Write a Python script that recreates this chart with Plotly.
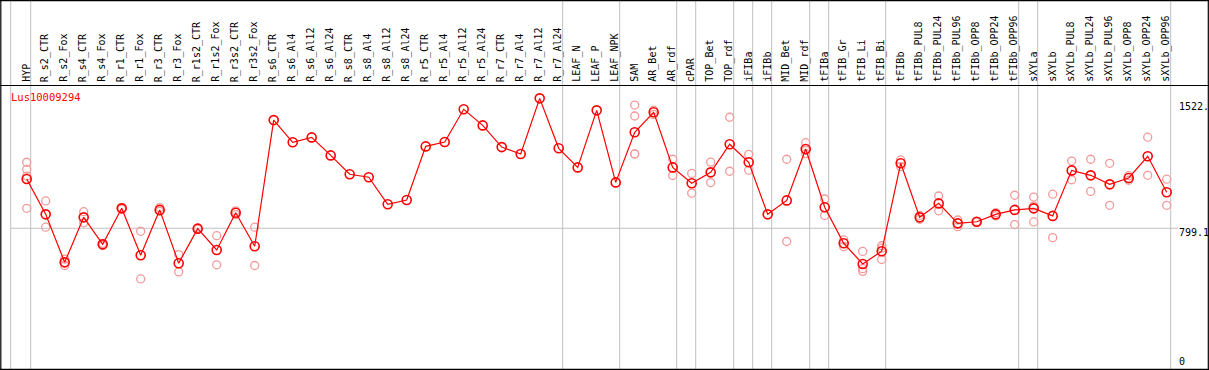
import plotly.graph_objects as go

W, H = 1209, 370

gene = "Lus10009294"
categories = ["HYP", "R_s2_CTR", "R_s2_Fox", "R_s4_CTR", "R_s4_Fox", "R_r1_CTR", "R_r1_Fox",
              "R_r3_CTR", "R_r3_Fox", "R_r1s2_CTR", "R_r1s2_Fox", "R_r3s2_CTR", "R_r3s2_Fox",
              "R_s6_CTR", "R_s6_Al4", "R_s6_Al12", "R_s6_Al24", "R_s8_CTR", "R_s8_Al4", "R_s8_Al12",
              "R_s8_Al24", "R_r5_CTR", "R_r5_Al4", "R_r5_Al12", "R_r5_Al24", "R_r7_CTR", "R_r7_Al4",
              "R_r7_Al12", "R_r7_Al24", "LEAF_N", "LEAF_P", "LEAF_NPK", "SAM", "AR_Bet", "AR_rdf",
              "cPAR", "TOP_Bet", "TOP_rdf", "iFIBa", "iFIBb", "MID_Bet", "MID_rdf", "tFIBa",
              "tFIB_Gr", "tFIB_Li", "tFIB_Bi", "tFIBb", "tFIBb_PUL8", "tFIBb_PUL24", "tFIBb_PUL96",
              "tFIBb_OPP8", "tFIBb_OPP24", "tFIBb_OPP96", "sXYLa", "sXYLb", "sXYLb_PUL8",
              "sXYLb_PUL24", "sXYLb_PUL96", "sXYLb_OPP8", "sXYLb_OPP24", "sXYLb_OPP96"]

means = [1078, 878, 606, 861, 708, 912, 646, 903, 601, 797, 676, 887, 697,
         1412, 1286, 1314, 1212, 1105, 1088, 935, 959, 1263, 1288, 1473, 1382, 1259, 1220,
         1535, 1252, 1144, 1467, 1059, 1343, 1456, 1144, 1054, 1116, 1275, 1173, 878, 957,
         1248, 918, 714, 597, 669, 1167, 861, 940, 827, 836, 878, 903, 912, 869, 1127,
         1099, 1048, 1084, 1207, 1003]

replicates = [[1173, 1133, 1095, 912], [954, 805], [624, 588], [893, 830], [714, 702],
              [916, 908], [782, 512], [916, 895], [650, 552], [800, 794], [757, 592],
              [898, 876], [805, 588],
              [], [], [], [], [], [], [], [], [], [], [], [], [], [], [], [], [], [], [],
              [1497, 1435, 1220, 1220], [1468, 1444], [1190, 1098], [1110, 998], [1174, 1058],
              [1428, 1122], [1218, 1128], [], [1190, 724], [1284, 1240, 1222], [965, 872],
              [733, 695], [668, 570, 555], [700, 686, 622], [1186, 1148], [872, 850],
              [982, 898], [846, 808], [838, 834], [887, 869], [986, 820], [976, 925, 835],
              [992, 746], [1180, 1074], [1190, 1008], [1167, 929], [1097, 1071], [1315, 1099],
              [1077, 929]]

# index of last column in each group (vertical separators drawn after these)
group_ends = [0, 28, 31, 34, 35, 37, 38, 39, 41, 42, 45, 52, 53, 60]

ref_value = 799.1
max_label = "1522."
ref_label = "799.1"
zero_label = "0"

# ---- geometry helpers (pixel layout) ----
X0_PX, DX_PX = 26.7, 19.0          # pixel x of first column, column spacing
x_range = [(0 - X0_PX) / DX_PX, (W - X0_PX) / DX_PX]
Y_ZERO_PX, Y_SCALE = 369.3, 0.1765  # pixel y of 0, px per unit
y_range = [(Y_ZERO_PX - H) / Y_SCALE, Y_ZERO_PX / Y_SCALE]


def px_x(p):
    return p / W


def px_y(p):
    return 1 - p / H


xs = list(range(len(categories)))
rep_x, rep_y = [], []
for i, reps in enumerate(replicates):
    for v in reps:
        rep_x.append(i)
        rep_y.append(v)

fig = go.Figure()
fig.add_trace(go.Scatter(
    x=rep_x, y=rep_y, mode="markers",
    marker=dict(symbol="circle-open", size=8, color="#f29a9a", line=dict(width=1.3)),
    hoverinfo="skip", showlegend=False))
fig.add_trace(go.Scatter(
    x=xs, y=means, mode="lines+markers",
    line=dict(color="#ff0000", width=1.2),
    marker=dict(symbol="circle-open", size=9, color="#ff0000", line=dict(width=1.6)),
    showlegend=False))

shapes = []
grid = "#c0c0c0"
# vertical separators
sep_xs = [-16.0 / DX_PX] + [e + 4.0 / DX_PX for e in group_ends]
for sx in sep_xs:
    shapes.append(dict(type="line", xref="x", yref="paper", x0=sx, x1=sx, y0=0, y1=1,
                       line=dict(color=grid, width=1), layer="below"))
# horizontal reference line
shapes.append(dict(type="line", xref="x", yref="y", x0=-16.0 / DX_PX,
                   x1=(1178 - X0_PX) / DX_PX, y0=ref_value, y1=ref_value,
                   line=dict(color=grid, width=1), layer="below"))
# frame lines
blk = dict(color="black", width=1.2)
shapes.append(dict(type="line", xref="paper", yref="paper", x0=0, x1=1,
                   y0=px_y(0.6), y1=px_y(0.6), line=blk))
shapes.append(dict(type="line", xref="paper", yref="paper", x0=0, x1=1,
                   y0=px_y(85.5), y1=px_y(85.5), line=blk))
shapes.append(dict(type="line", xref="paper", yref="paper", x0=0, x1=1,
                   y0=px_y(369.4), y1=px_y(369.4), line=blk))
shapes.append(dict(type="line", xref="paper", yref="paper", x0=px_x(0.8), x1=px_x(0.8),
                   y0=0, y1=1, line=blk))
shapes.append(dict(type="line", xref="paper", yref="paper", x0=px_x(1208.3), x1=px_x(1208.3),
                   y0=0, y1=1, line=blk))

mono = "DejaVu Sans Mono"
annotations = []
for i, c in enumerate(categories):
    annotations.append(dict(
        x=i - 1.0 / DX_PX, y=px_y(84), xref="x", yref="paper", text=c, textangle=-90,
        showarrow=False, xanchor="center", yanchor="bottom",
        font=dict(family=mono, size=10, color="black")))
annotations.append(dict(x=px_x(9), y=px_y(96.5), xref="paper", yref="paper", text=gene,
                        showarrow=False, xanchor="left", yanchor="middle",
                        font=dict(family=mono, size=10.5, color="#ff0000")))
for lab, yc in [(max_label, 106.7), (ref_label, 232.4), (zero_label, 361.8)]:
    annotations.append(dict(x=px_x(1177), y=px_y(yc), xref="paper", yref="paper", text=lab,
                            showarrow=False, xanchor="left", yanchor="middle",
                            font=dict(family=mono, size=10, color="black")))

fig.update_layout(
    width=W, height=H, autosize=False,
    margin=dict(l=0, r=0, t=0, b=0, pad=0),
    paper_bgcolor="white", plot_bgcolor="white",
    xaxis=dict(range=x_range, visible=False, showgrid=False, zeroline=False, fixedrange=True),
    yaxis=dict(range=y_range, visible=False, showgrid=False, zeroline=False, fixedrange=True),
    shapes=shapes, annotations=annotations, showlegend=False)

fig.write_html("out.html", config={"displayModeBar": False},
               post_script="document.body.style.margin='0';document.body.style.overflow='hidden';")
